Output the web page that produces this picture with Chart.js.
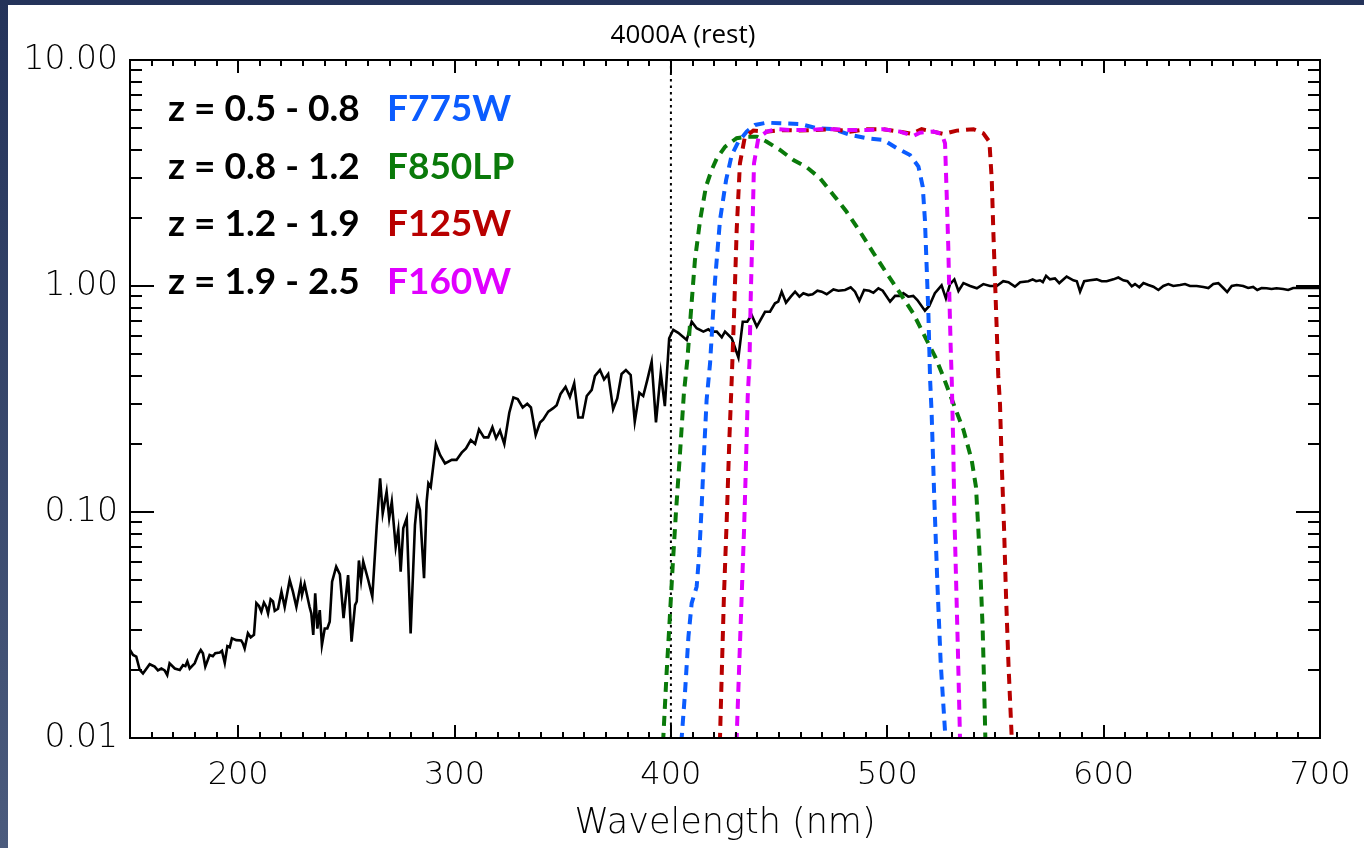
<!DOCTYPE html>
<html><head><meta charset="utf-8">
<script src="https://cdn.jsdelivr.net/npm/chart.js@4.4.1/dist/chart.umd.min.js"></script>
<style>
html,body{margin:0;padding:0;width:1364px;height:848px;overflow:hidden;background:linear-gradient(#24335a,#4b5b7d);}
#wrap{position:absolute;left:8px;top:5px;width:1356px;height:843px;background:#fff;}
canvas{display:block;}
</style></head><body><div id="wrap"><canvas id="c" width="1356" height="843"></canvas></div>
<script>
// ---- Data ----
const specWave = [150,151.4,152.9,154.5,156.0,159.1,161.4,162.9,164.5,166.0,167.2,168.3,170.7,173.0,174.5,175.6,176.5,177.6,179.9,181.4,182.7,183.7,184.8,186.8,188.3,189.4,191.5,192.5,193.8,195.0,196.1,197.1,199.1,201.4,202.2,203.0,204.5,205.8,207.3,208.4,209.6,210.7,211.9,213.0,213.8,215.0,216.1,216.9,218.4,220.0,221.5,223.8,225.3,226.9,228.9,229.5,230.7,233.0,233.8,234.7,235.6,236.6,237.7,238.7,240.0,241.2,242.3,243.4,245.3,247.0,248.7,250.8,252.4,254.0,254.8,255.8,256.8,257.8,260.1,262.0,264.0,265.6,266.8,268.6,269.8,271.0,272.8,274.0,275.1,276.3,277.9,279.7,281.7,282.8,284.0,285.9,287.1,287.9,289.0,291.4,293.3,295.6,298.7,300.9,303.3,305.3,307.5,309.5,311.3,313.6,315.6,317.5,319.2,321.0,323.0,325.3,327.2,329.2,331.5,333.6,335.3,337.5,339.5,341.0,343.3,345.6,347.2,349.0,351.3,353.3,355.3,357.2,359.2,361.1,363.4,364.9,367.2,369.1,371.0,373.3,375.2,377.2,379.2,381.4,383.3,385.4,387.2,389.1,391.1,393.1,395.3,397.2,399.2,401.1,403.4,407.3,409.6,411.9,415.0,417.3,418.8,421.2,423.5,425.0,428.1,431.2,433.2,435.3,437.3,439.7,443.5,445.8,448.1,449.6,451.2,453.2,455.4,457.4,459.4,461.2,463.5,465.5,467.7,469.7,472.0,475.1,477.4,480.5,483.1,485.1,487.1,489.3,491.7,493.6,495.9,497.9,501.3,503.6,505.9,507.4,509.7,512.0,513.9,517.4,519.4,522.0,525.1,527.1,529.0,531.0,532.9,535.2,538.3,541.4,544.4,547.5,550.6,553.6,556.0,559.0,561.4,565.2,567.2,568.8,570.6,571.9,573.4,575.2,577.5,579.5,582.9,586.0,587.6,589.1,591.0,593.7,596.8,599.1,601.4,604.5,606.8,609.1,611.0,613.0,614.5,616.5,618.4,620.7,623.0,625.3,627.6,629.9,632.2,635.3,637.6,639.9,643.0,646.1,648.4,650.7,653.0,655.3,657.1,659.2,661.5,664.5,666.8,669.1,671.0,673.0,675.3,677.6,679.9,683.0,685.3,687.6,690.7,693.8,696.8,700];
const specFlux = [0.0245,0.0233,0.0229,0.0200,0.0193,0.0212,0.0207,0.0199,0.0203,0.0199,0.0190,0.0214,0.0203,0.0200,0.0210,0.0208,0.0218,0.0203,0.0214,0.0233,0.0245,0.0237,0.0207,0.0233,0.0230,0.0237,0.0239,0.0243,0.0215,0.0255,0.0252,0.0276,0.0271,0.0270,0.0262,0.0249,0.0291,0.0279,0.0286,0.0395,0.0384,0.0362,0.0397,0.0380,0.0356,0.0411,0.0402,0.0365,0.0373,0.0444,0.0380,0.0500,0.0444,0.0380,0.0480,0.0430,0.0480,0.0380,0.0356,0.0286,0.0437,0.0305,0.0368,0.0258,0.0305,0.0305,0.0327,0.0492,0.0573,0.0530,0.0339,0.0526,0.0267,0.0387,0.0402,0.0610,0.0500,0.0603,0.0500,0.0422,0.0861,0.141,0.0986,0.123,0.0938,0.111,0.0703,0.0833,0.0544,0.0847,0.0938,0.0290,0.0875,0.113,0.102,0.0509,0.111,0.134,0.129,0.200,0.179,0.164,0.170,0.170,0.183,0.191,0.208,0.200,0.232,0.214,0.214,0.237,0.212,0.229,0.200,0.275,0.321,0.316,0.290,0.301,0.290,0.219,0.249,0.257,0.278,0.288,0.297,0.333,0.358,0.323,0.371,0.262,0.262,0.326,0.347,0.400,0.425,0.386,0.408,0.285,0.318,0.408,0.425,0.404,0.251,0.337,0.326,0.384,0.462,0.249,0.413,0.294,0.587,0.640,0.621,0.577,0.695,0.650,0.628,0.643,0.628,0.628,0.593,0.628,0.587,0.483,0.695,0.695,0.745,0.661,0.769,0.769,0.838,0.853,0.944,0.844,0.897,0.944,0.897,0.929,0.912,0.920,0.953,0.944,0.920,0.966,0.953,0.960,0.986,0.944,0.861,0.960,0.953,0.933,0.977,0.953,0.853,0.904,0.904,0.929,0.897,0.904,0.867,0.778,0.816,0.929,1.007,0.882,1.02,1.07,0.951,1.03,1.00,0.977,1.02,1.00,1.00,1.05,1.04,0.993,1.04,1.05,1.07,1.05,1.06,1.04,1.11,1.07,1.08,1.03,1.10,1.06,1.05,0.944,1.05,1.06,1.07,1.05,1.05,1.07,1.09,1.06,1.05,0.997,1.02,0.987,1.03,1.01,0.993,0.96,1.00,1.02,1.00,1.01,1.02,1.00,1.00,0.99,0.98,1.02,1.03,0.98,0.94,1.00,1.01,1.00,0.98,0.99,0.96,0.98,0.977,0.97,0.977,0.97,0.96,0.98,0.98,0.98,0.98,0.98];

const f775Wave = [404.8,405.0,406.5,408.1,409.6,411.9,413.1,414.2,415.3,416.5,418.1,420.4,422.7,425.5,428.1,431.2,435.0,438.9,444.3,450.4,459.7,467.4,475.1,482.8,490.5,498.2,504.4,510.5,514.4,516.4,517.4,518.2,519.0,519.8,520.5,521.7,523.1,524.7,526.7,527.0];
const f775Thr  = [0.008,0.0101,0.0158,0.0281,0.0395,0.0467,0.0656,0.105,0.182,0.313,0.455,1.06,1.96,2.94,3.80,4.35,4.82,5.16,5.28,5.25,5.21,4.99,4.94,4.66,4.51,4.43,4.07,3.80,3.38,2.75,1.96,1.22,0.757,0.384,0.274,0.117,0.050,0.0214,0.0107,0.008];

const f850Wave = [396.2,396.5,398.0,399.6,400.8,402.3,404.2,406.0,407.6,409.2,411.1,413.5,416.2,418.8,421.2,425.0,430.4,435.0,439.7,444.3,450.4,456.6,462.8,468.9,475.1,481.2,487.4,493.6,499.7,505.9,512.0,517.4,522.1,525.9,530.5,535.2,539.0,541.0,542.1,543.2,544.1,544.7,545.3,545.5];
const f850Thr  = [0.008,0.0101,0.0193,0.0356,0.0573,0.0986,0.182,0.335,0.471,0.757,1.30,1.96,2.75,3.26,3.67,4.13,4.51,4.58,4.58,4.35,4.00,3.61,3.35,3.00,2.53,2.13,1.74,1.40,1.14,0.929,0.757,0.597,0.487,0.397,0.303,0.231,0.170,0.129,0.0832,0.050,0.0301,0.0181,0.0103,0.008];

const f125Wave = [422.6,422.7,423.5,424.5,425.8,427.0,428.1,429.2,430.4,431.9,434.2,438.1,444.3,452.0,459.7,467.4,475.1,482.8,490.5,498.2,505.9,511.3,515.9,521.3,525.9,532.1,539.8,544.4,547.2,548.3,549.0,549.8,550.6,551.3,552.1,552.9,554.0,554.9,556.0,557.5,557.8];
const f125Thr  = [0.008,0.0101,0.0193,0.0422,0.0923,0.208,0.384,0.757,1.77,3.49,4.58,4.87,4.82,4.90,4.87,4.90,4.94,4.82,4.94,4.94,4.82,4.71,4.94,4.82,4.71,4.87,4.94,4.74,4.35,2.94,1.77,1.06,0.638,0.40,0.30,0.164,0.0832,0.0422,0.0214,0.0101,0.008];

const f160Wave = [430.3,430.4,431.6,432.7,433.8,434.7,435.5,436.3,436.9,437.7,438.4,440.4,444.3,449.0,455.1,462.8,469.0,475.1,482.8,490.5,498.2,505.9,512.0,515.1,521.3,525.2,526.7,527.5,528.2,528.7,529.3,529.8,530.5,531.0,531.8,532.6,533.6,533.8];
const f160Thr  = [0.008,0.0101,0.0214,0.0422,0.0832,0.164,0.324,0.455,0.897,1.77,3.49,4.51,4.82,4.94,4.90,4.90,4.94,4.94,4.90,4.90,4.94,4.82,4.61,4.77,4.82,4.71,4.28,2.48,1.49,0.897,0.539,0.384,0.195,0.0986,0.050,0.0254,0.0101,0.008];

const restLineWave = [400, 400];
const restLineY = [0.01, 10];

const xTickValues = [200, 300, 400, 500, 600, 700];
const yTickValues = [0.01, 0.1, 1, 10];
const redshiftRanges = ['z = 0.5 - 0.8', 'z = 0.8 - 1.2', 'z = 1.2 - 1.9', 'z = 1.9 - 2.5'];
const filterNames = ['F775W', 'F850LP', 'F125W', 'F160W'];
const topLabel = '4000A (rest)';
const xTitle = 'Wavelength (nm)';

// ---- Styles ----
const COLORS = { F775W: '#0b5cff', F850LP: '#0a7a0a', F125W: '#b80000', F160W: '#e000ff' };
const TICK_FONT = '"DejaVu Sans", sans-serif';

function pts(xs, ys) { return xs.map((v, i) => ({ x: v, y: ys[i] })); }

const filterDs = (label, xs, ys, order) => ({
  label, data: pts(xs, ys), borderColor: COLORS[label], borderWidth: 4,
  borderDash: [10, 7], borderCapStyle: 'butt', pointRadius: 0, tension: 0, order, fill: false
});

const decor = {
  id: 'decor',
  afterDatasetsDraw(chart) {
    const { ctx, chartArea: a, scales: { x, y } } = chart;
    ctx.save();
    ctx.strokeStyle = '#000';
    ctx.lineWidth = 2;
    ctx.beginPath();
    for (let v = x.min + 10; v < x.max; v += 10) {
      const px = Math.round(x.getPixelForValue(v));
      const L = (v % 100 === 0) ? 13 : 6;
      ctx.moveTo(px, a.bottom); ctx.lineTo(px, a.bottom - L);
      ctx.moveTo(px, a.top); ctx.lineTo(px, a.top + L);
    }
    for (let d = 0; d < yTickValues.length - 1; d++) {
      for (let m = 1; m <= 10; m++) {
        const v = yTickValues[d] * m;
        const py = Math.round(y.getPixelForValue(v));
        const L = (m === 1 || m === 10) ? 24 : 12;
        ctx.moveTo(a.left, py); ctx.lineTo(a.left + L, py);
        ctx.moveTo(a.right, py); ctx.lineTo(a.right - L, py);
      }
    }
    ctx.stroke();
    ctx.lineWidth = 2;
    ctx.strokeRect(a.left, a.top, a.right - a.left, a.bottom - a.top);

    // legend text
    ctx.textBaseline = 'alphabetic';
    ctx.textAlign = 'left';
    ctx.font = 'bold 37px Lato, "Open Sans", sans-serif';
    for (let i = 0; i < redshiftRanges.length; i++) {
      const by = 116 + i * 57.7;
      ctx.fillStyle = '#000';
      ctx.fillText(redshiftRanges[i], 160, by);
      ctx.fillStyle = COLORS[filterNames[i]];
      ctx.fillText(filterNames[i], 379, by);
    }
    // top label
    ctx.fillStyle = '#000';
    ctx.font = '26px "Open Sans", sans-serif';
    ctx.textAlign = 'center';
    ctx.textBaseline = 'middle';
    ctx.fillText(topLabel, 675, 31);
    ctx.restore();
  }
};

new Chart(document.getElementById('c'), {
  type: 'line',
  data: {
    datasets: [
      { label: 'rest', data: pts(restLineWave, restLineY), borderColor: '#000', borderWidth: 2, borderDash: [2.5, 4], pointRadius: 0, order: 6 },
      { label: 'spectrum', data: pts(specWave, specFlux), borderColor: '#000', borderWidth: 2.6, pointRadius: 0, tension: 0, order: 5 },
      filterDs('F850LP', f850Wave, f850Thr, 4),
      filterDs('F775W', f775Wave, f775Thr, 3),
      filterDs('F125W', f125Wave, f125Thr, 2),
      filterDs('F160W', f160Wave, f160Thr, 1)
    ]
  },
  options: {
    responsive: false,
    animation: false,
    devicePixelRatio: 1,
    layout: { padding: { top: 55, right: 44, left: 0, bottom: 0 } },
    plugins: { legend: { display: false }, tooltip: { enabled: false } },
    scales: {
      x: {
        type: 'linear', min: 150, max: 700,
        grid: { display: false, drawTicks: false, tickLength: 0 },
        border: { display: false },
        afterBuildTicks: s => { s.ticks = xTickValues.map(v => ({ value: v })); },
        afterFit: s => { s.height = 110; s.paddingLeft = 0; s.paddingRight = 0; },
        ticks: { color: '#000', font: { family: TICK_FONT, size: 32, weight: 200 }, padding: 18, maxRotation: 0, autoSkip: false, callback: v => String(v) },
        title: { display: true, text: xTitle, color: '#000', font: { family: TICK_FONT, size: 35, weight: 200 }, padding: { top: 0, bottom: 3 } }
      },
      y: {
        type: 'logarithmic', min: 0.01, max: 10,
        grid: { display: false, drawTicks: false, tickLength: 0 },
        border: { display: false },
        afterBuildTicks: s => { s.ticks = yTickValues.map(v => ({ value: v })); },
        afterFit: s => { s.width = 122; s.paddingTop = 0; s.paddingBottom = 0; },
        ticks: { color: '#000', font: { family: TICK_FONT, size: 33, weight: 200 }, padding: 12, autoSkip: false, callback: v => Number(v).toFixed(2) }
      }
    }
  },
  plugins: [decor]
});
</script></body></html>
